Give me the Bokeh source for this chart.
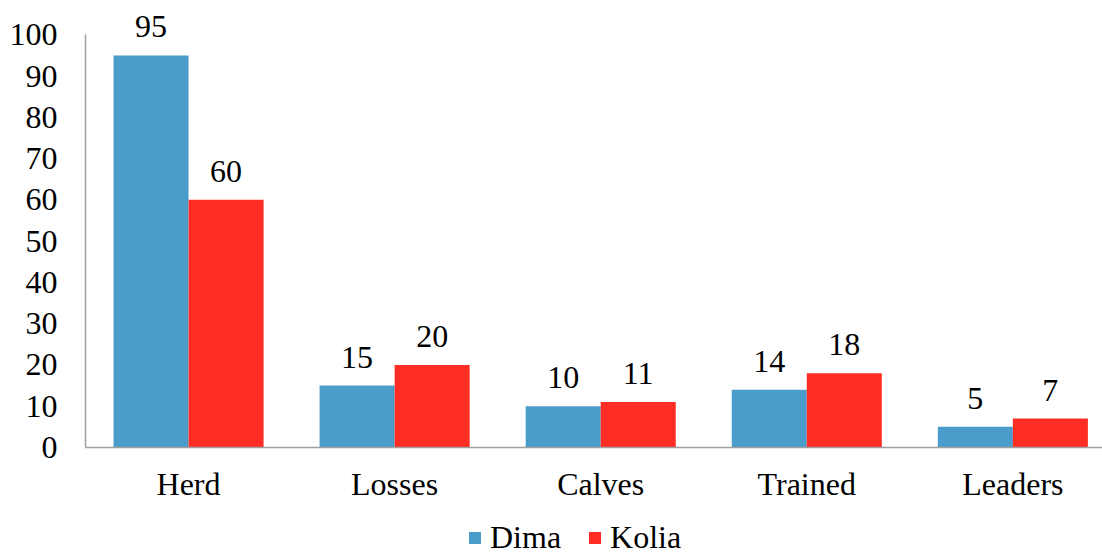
from bokeh.plotting import figure
from bokeh.layouts import column
from bokeh.models import ColumnDataSource, Range1d, FixedTicker, Legend, LegendItem, LabelSet
from bokeh.embed import file_html
from bokeh.resources import INLINE

categories = ["Herd", "Losses", "Calves", "Trained", "Leaders"]
dima = [95, 15, 10, 14, 5]
kolia = [60, 20, 11, 18, 7]
y_ticks = [0, 10, 20, 30, 40, 50, 60, 70, 80, 90, 100]

FONT = "Liberation Serif"
FS = "32px"
BLUE = "#4A9CCA"
RED = "#FF2D24"
AXIS = "#A0A0A0"

# category i is centred at i + 0.5; each bar takes 0.364 of a category slot
bar_w = 0.3641
centers = [i + 0.5 for i in range(len(categories))]

src_d = ColumnDataSource(dict(x=[c - bar_w / 2 for c in centers], top=dima,
                              lab=[str(v) for v in dima]))
src_k = ColumnDataSource(dict(x=[c + bar_w / 2 for c in centers], top=kolia,
                              lab=[str(v) for v in kolia]))

# y range runs past 100 so the top value label has room; the axis line stops at 100
p = figure(width=1102, height=505, output_backend="svg", toolbar_location=None,
           x_range=Range1d(0, 4.935), y_range=Range1d(0, 108.3),
           min_border_left=85, min_border_right=0, min_border_top=0, min_border_bottom=58)
p.outline_line_color = None
p.grid.visible = False
p.background_fill_color = "white"
p.border_fill_color = "white"

r_d = p.vbar(x="x", top="top", width=bar_w, bottom=0, source=src_d,
             fill_color=BLUE, line_color=None)
r_k = p.vbar(x="x", top="top", width=bar_w, bottom=0, source=src_k,
             fill_color=RED, line_color=None)

for src in (src_d, src_k):
    p.add_layout(LabelSet(x="x", y="top", text="lab", source=src, y_offset=18,
                          text_align="center", text_baseline="alphabetic",
                          text_font=FONT, text_font_size=FS, text_color="black"))

# axes
p.xaxis.ticker = FixedTicker(ticks=centers)
p.xaxis.major_label_overrides = {c: n for c, n in zip(centers, categories)}
p.yaxis.ticker = FixedTicker(ticks=y_ticks)
p.yaxis.bounds = (0, 100)
for ax in (p.xaxis, p.yaxis):
    ax.axis_line_color = AXIS
    ax.axis_line_width = 1.5
    ax.major_tick_line_color = None
    ax.minor_tick_line_color = None
    ax.major_tick_out = 0
    ax.major_tick_in = 0
    ax.major_label_text_font = FONT
    ax.major_label_text_font_size = FS
    ax.major_label_text_color = "black"
p.xaxis.major_label_standoff = 18
p.yaxis.major_label_standoff = 28

# legend strip underneath the chart; its swatch renderers are zero-height bars
lg = figure(width=1102, height=51, output_backend="svg", toolbar_location=None,
            x_range=Range1d(0, 1), y_range=Range1d(0, 1),
            min_border_left=0, min_border_right=0, min_border_top=0, min_border_bottom=0)
lg.axis.visible = False
lg.grid.visible = False
lg.outline_line_color = None
swatch = dict(x=[0.5], top=[0])
g_d = lg.vbar(x="x", top="top", bottom=0, width=0.01, source=ColumnDataSource(swatch),
              fill_color=BLUE, line_color=None)
g_k = lg.vbar(x="x", top="top", bottom=0, width=0.01, source=ColumnDataSource(swatch),
              fill_color=RED, line_color=None)
legend = Legend(items=[LegendItem(label="Dima", renderers=[g_d]),
                       LegendItem(label="Kolia", renderers=[g_k])],
                location=(382, 0), orientation="horizontal",
                glyph_width=15, glyph_height=15, label_standoff=8, spacing=26,
                padding=0, margin=0, border_line_color=None, background_fill_alpha=0,
                label_text_font=FONT, label_text_font_size=FS, label_text_color="black",
                label_text_line_height=1.0)
lg.add_layout(legend, "center")

open("out.html", "w").write(file_html(column(p, lg, spacing=0), INLINE))
